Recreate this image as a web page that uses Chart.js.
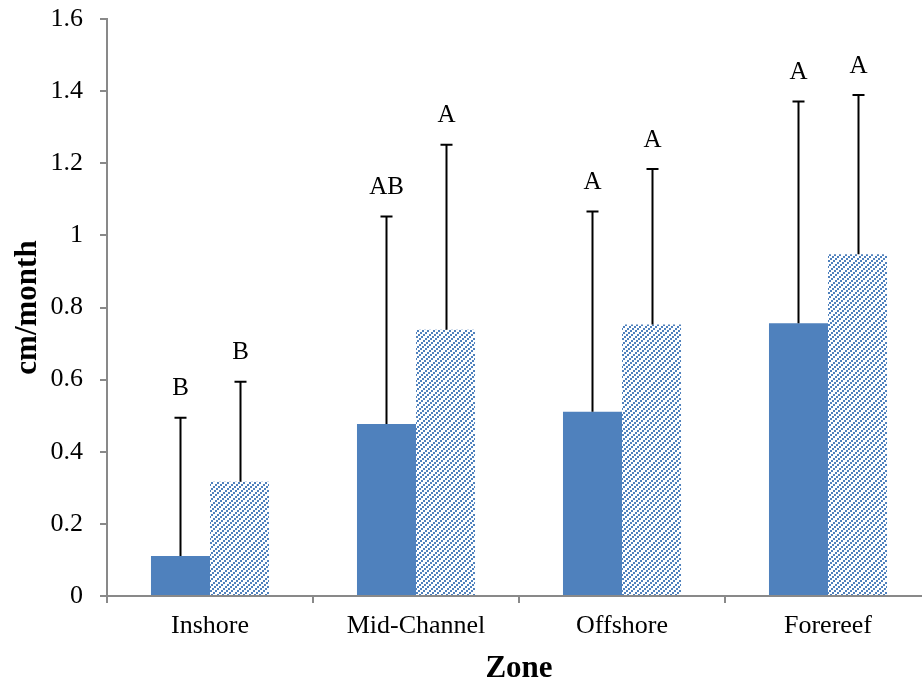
<!DOCTYPE html>
<html>
<head>
<meta charset="utf-8">
<script src="https://cdn.jsdelivr.net/npm/chart.js@4/dist/chart.umd.min.js"></script>
<style>
  html, body { margin: 0; padding: 0; background: #fff; overflow: hidden; }
  #wrap { width: 932px; height: 684px; }
</style>
</head>
<body>
<div id="wrap"><canvas id="c" width="932" height="684"></canvas></div>
<script>
// Growth rate (cm/month) by reef zone, two groups per zone
const zones = ['Inshore', 'Mid-Channel', 'Offshore', 'Forereef'];
const solidMeans = [0.111, 0.477, 0.511, 0.756];
const solidErrors = [0.383, 0.575, 0.555, 0.615];
const hatchedMeans = [0.317, 0.738, 0.753, 0.948];
const hatchedErrors = [0.277, 0.513, 0.431, 0.441];
const solidLetters = ['B', 'AB', 'A', 'A'];
const hatchedLetters = ['B', 'A', 'A', 'A'];
const yTickValues = [0, 0.2, 0.4, 0.6, 0.8, 1, 1.2, 1.4, 1.6];

const BLUE = '#4F81BD';
const AXIS_GRAY = '#898989';
const SERIF = '"Liberation Serif", "Times New Roman", serif';

// Dotted upward-diagonal fill: 2x2 dots stepping up-right, three lines per 16px tile
function makeHatch() {
  const size = 16;
  const pc = document.createElement('canvas');
  pc.width = size; pc.height = size;
  const g = pc.getContext('2d');
  g.fillStyle = '#fff';
  g.fillRect(0, 0, size, size);
  g.fillStyle = BLUE;
  const starts = [0, 5, 11];
  for (let k = 0; k < size / 2; k++) {
    starts.forEach(c => {
      const x = ((c - 2 * k) % size + size) % size;
      g.fillRect(x, 2 * k, 2, 2);
      if (x === size - 1) g.fillRect(0, 2 * k, 1, 2);
    });
  }
  return g.createPattern(pc, 'repeat');
}

const errorBarsAndLetters = {
  id: 'errorBarsAndLetters',
  afterDatasetsDraw(chart) {
    const ctx = chart.ctx;
    const yScale = chart.scales.y;
    const sets = [
      { means: solidMeans, errs: solidErrors, letters: solidLetters },
      { means: hatchedMeans, errs: hatchedErrors, letters: hatchedLetters }
    ];
    ctx.save();
    sets.forEach((s, d) => {
      const meta = chart.getDatasetMeta(d);
      meta.data.forEach((bar, i) => {
        const x = Math.round(bar.x) + 0.5;
        const yTop = yScale.getPixelForValue(s.means[i] + s.errs[i]);
        const yBase = yScale.getPixelForValue(s.means[i]);
        ctx.strokeStyle = '#000';
        ctx.lineWidth = 2;
        ctx.beginPath();
        ctx.moveTo(x, yBase);
        ctx.lineTo(x, yTop);
        ctx.moveTo(x - 6, yTop);
        ctx.lineTo(x + 6, yTop);
        ctx.stroke();
        ctx.fillStyle = '#000';
        ctx.font = '25px ' + SERIF;
        ctx.textAlign = 'center';
        ctx.textBaseline = 'middle';
        ctx.fillText(s.letters[i], x, yTop - 29);
      });
    });
    ctx.restore();
  }
};

const whiteBackground = {
  id: 'whiteBackground',
  beforeDraw(chart) {
    const ctx = chart.ctx;
    ctx.save();
    ctx.fillStyle = '#fff';
    ctx.fillRect(0, 0, chart.width, chart.height);
    ctx.restore();
  }
};

new Chart(document.getElementById('c'), {
  type: 'bar',
  data: {
    labels: zones,
    datasets: [
      { label: 'Group 1', data: solidMeans, backgroundColor: BLUE, borderWidth: 0,
        categoryPercentage: 0.573, barPercentage: 1.0 },
      { label: 'Group 2', data: hatchedMeans, backgroundColor: makeHatch(), borderWidth: 0,
        categoryPercentage: 0.573, barPercentage: 1.0 }
    ]
  },
  options: {
    responsive: false,
    devicePixelRatio: 1,
    animation: false,
    layout: { padding: { left: 0, right: 1, top: 19, bottom: 0 } },
    plugins: { legend: { display: false }, tooltip: { enabled: false } },
    scales: {
      x: {
        type: 'category',
        offset: true,
        afterFit(scale) {
          scale.height = 88;
          scale.paddingLeft = 0;
          scale.paddingRight = 0;
        },
        grid: { display: true, drawOnChartArea: false, offset: true, tickLength: 7,
                color: AXIS_GRAY, lineWidth: 2 },
        border: { display: true, color: AXIS_GRAY, width: 2 },
        ticks: { color: '#000', font: { family: SERIF, size: 26 }, padding: 8,
                 maxRotation: 0, autoSkip: false },
        title: { display: true, text: 'Zone', color: '#000',
                 font: { family: SERIF, size: 31, weight: 'bold', lineHeight: 1 },
                 padding: { top: 0, bottom: 0 } }
      },
      y: {
        min: 0,
        max: 1.6,
        afterBuildTicks(scale) { scale.ticks = yTickValues.map(v => ({ value: v })); },
        afterFit(scale) {
          scale.width = 107;
          scale.paddingTop = 0;
          scale.paddingBottom = 0;
        },
        grid: { display: true, drawOnChartArea: false, tickLength: 7,
                color: AXIS_GRAY, lineWidth: 2 },
        border: { display: true, color: AXIS_GRAY, width: 2 },
        ticks: { color: '#000', font: { family: SERIF, size: 26 }, padding: 17,
                 callback: v => String(v) },
        title: { display: true, text: 'cm/month', color: '#000',
                 font: { family: SERIF, size: 31, weight: 'bold', lineHeight: 1 },
                 padding: { top: 12, bottom: 0 } }
      }
    }
  },
  plugins: [whiteBackground, errorBarsAndLetters]
});
</script>
</body>
</html>
